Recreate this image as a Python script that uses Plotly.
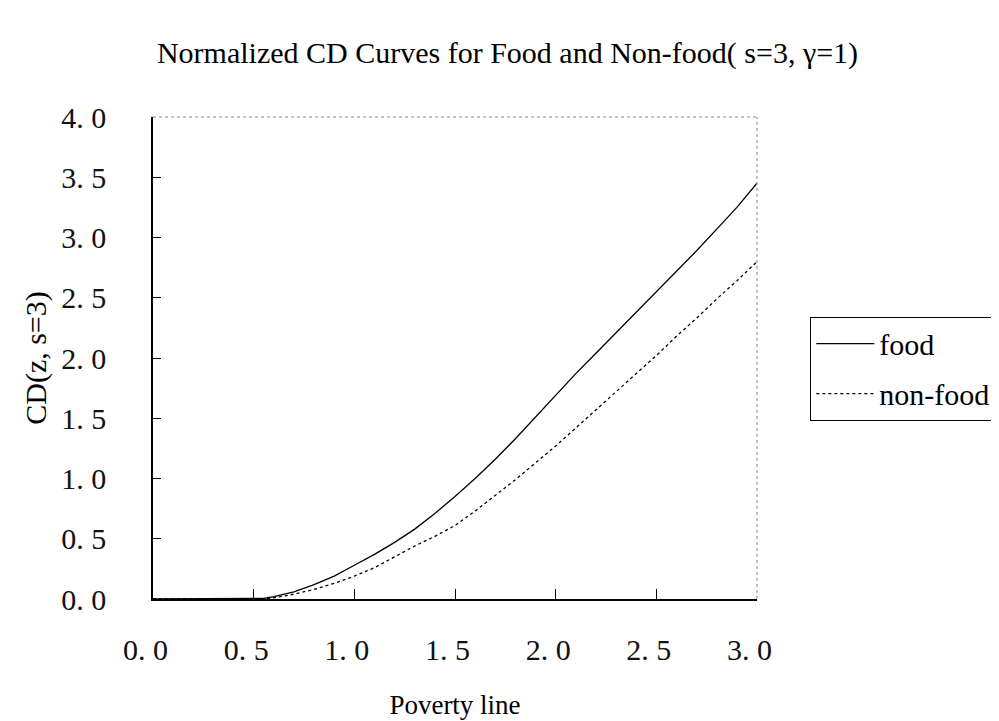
import plotly.graph_objects as go

z = [0.0, 0.1, 0.2, 0.3, 0.4, 0.5, 0.55, 0.6, 0.7, 0.8, 0.9, 1.0, 1.1, 1.2, 1.3, 1.4, 1.5,
     1.6, 1.7, 1.8, 1.9, 2.0, 2.1, 2.2, 2.3, 2.4, 2.5, 2.6, 2.7, 2.8, 2.9, 3.0]
food = [0.0, 0.0, 0.0, 0.0, 0.0, 0.0, 0.005, 0.02, 0.06, 0.12, 0.19, 0.28, 0.37, 0.47, 0.58,
        0.71, 0.85, 1.00, 1.16, 1.33, 1.51, 1.69, 1.87, 2.04, 2.21, 2.38, 2.55, 2.72, 2.89,
        3.07, 3.25, 3.45]
nonfood = [0.0, 0.0, 0.0, 0.0, 0.0, 0.0, 0.0, 0.01, 0.04, 0.08, 0.13, 0.19, 0.26, 0.35, 0.44,
           0.52, 0.61, 0.73, 0.86, 0.99, 1.13, 1.27, 1.42, 1.57, 1.72, 1.87, 2.02, 2.18, 2.33,
           2.49, 2.64, 2.80]

x_ticks = [0.0, 0.5, 1.0, 1.5, 2.0, 2.5, 3.0]
x_labels = ["0. 0", "0. 5", "1. 0", "1. 5", "2. 0", "2. 5", "3. 0"]
y_ticks = [0.0, 0.5, 1.0, 1.5, 2.0, 2.5, 3.0, 3.5, 4.0]
y_labels = ["0. 0", "0. 5", "1. 0", "1. 5", "2. 0", "2. 5", "3. 0", "3. 5", "4. 0"]

serif = "Liberation Serif, Times New Roman, serif"
NB = "\u00a0"

fig = go.Figure()
fig.add_trace(go.Scatter(x=z, y=food, mode="lines", name="food", legendgroup="a",
                         line=dict(color="black", width=1.3, dash="solid")))
fig.add_trace(go.Scatter(x=z, y=nonfood, mode="lines", name="non-food", legendgroup="b",
                         line=dict(color="black", width=1.3, dash="3px,3px")))

fig.update_layout(
    width=999, height=721,
    margin=dict(l=145, r=242, t=109, b=130),
    paper_bgcolor="white", plot_bgcolor="white",
    title=dict(text="Normalized CD Curves for Food and Non-food( s=3, γ=1)",
               x=0.5, xanchor="center", y=0.938, yanchor="middle",
               font=dict(family=serif, size=30, color="black")),
    showlegend=True,
    legend=dict(x=(811 - 145) / 612, y=(592 - 309) / 483, xanchor="left", yanchor="top",
                bordercolor="black", borderwidth=1, bgcolor="white",
                font=dict(family=serif, size=30, color="black"),
                tracegroupgap=8, itemwidth=58),
    xaxis=dict(range=[0, 3.0], tickvals=x_ticks, ticktext=[t + NB + NB for t in x_labels],
               showgrid=False, zeroline=False, showline=True, linecolor="black", linewidth=1.5,
               ticks="inside", ticklen=10, tickcolor="black", tickwidth=1.2,
               tickfont=dict(family=serif, size=30, color="#111111"),
               ticklabelstandoff=23,
               title=dict(text="Poverty line", standoff=30,
                          font=dict(family=serif, size=27, color="black"))),
    yaxis=dict(range=[0, 4.0], tickvals=y_ticks, ticktext=y_labels,
               showgrid=False, zeroline=False, showline=True, linecolor="black", linewidth=1.5,
               ticks="inside", ticklen=8, tickcolor="black", tickwidth=1.2,
               tickfont=dict(family=serif, size=30, color="#111111"),
               ticklabelstandoff=39,
               title=dict(text="CD(z, s=3)", standoff=6,
                          font=dict(family=serif, size=30, color="black"))),
)

# dotted top and right frame
fig.add_shape(type="line", xref="paper", yref="paper", x0=0, x1=1, y0=1, y1=1,
              line=dict(color="#888888", width=1, dash="dot"))
fig.add_shape(type="line", xref="paper", yref="paper", x0=1, x1=1, y0=0, y1=1,
              line=dict(color="#888888", width=1, dash="dot"))

fig.write_html("out.html")
